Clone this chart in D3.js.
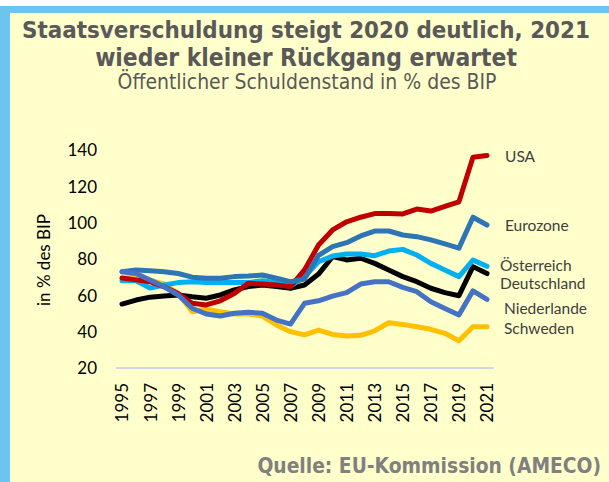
<!DOCTYPE html>
<html><head><meta charset="utf-8">
<script src="https://cdn.jsdelivr.net/npm/d3@7"></script>
<style>
html,body{margin:0;padding:0;background:#fff;}
svg{display:block;}
</style></head>
<body>
<svg id="chart" width="609" height="482"></svg>
<script>
const years = d3.range(1995, 2022);
const yTicks = [20, 40, 60, 80, 100, 120, 140];
const xTickYears = [1995,1997,1999,2001,2003,2005,2007,2009,2011,2013,2015,2017,2019,2021];

const usa = [69.5,68.5,67.5,64.7,61,55.6,54.7,57,61,66.6,66.2,65.7,64.8,74,87.7,96,100.5,103,105,105,104.8,107.5,106.4,109,111.5,136,137];
const eurozone = [73,74,73.5,73,72,70,69.4,69.4,70.3,70.6,71.2,69.4,67.5,69,82,86.8,89,92.7,95.4,95.4,93.2,92.3,90.5,88.3,86,103,98.7];
const oesterreich = [68,68,64,65.7,67,67.5,67,67,67,67,68,67,65,70.3,78.5,81.6,82.7,82.7,81.8,84.4,85.3,82.2,77.6,74,70.3,79.4,76];
const deutschland = [55.2,57.4,59,59.6,60.2,59.2,58.4,60.2,63,64.8,65.7,64.8,63.9,65.7,71.7,81.3,79.5,80.4,77.6,74,70.3,67.5,63.9,61.5,59.8,75.8,72];
const niederlande = [73,72,68.4,64.7,60.2,52.9,49.7,48.6,50.1,50.7,50.1,46.4,44.2,55.6,57,59.6,61.5,66.2,67.5,67.5,64.4,62,56.5,52.8,49.2,62.5,57.8];
const schweden = [69.4,70,68.4,66.2,61,51,52.3,51,49.7,49.7,48.6,43.7,40,38.2,40.9,38.5,37.6,38,40.5,44.9,44,42.7,41.3,39.1,35,42.7,42.7];

const seriesNames = ["Deutschland","Schweden","Österreich","USA","Eurozone","Niederlande"];
const seriesValues = [deutschland, schweden, oesterreich, usa, eurozone, niederlande];
const seriesColors = ["#000000","#FFC000","#00B0F0","#C00000","#2E75B6","#4472C4"];

const labels = [
  {name:"USA", x:505, y:162},
  {name:"Eurozone", x:505, y:231},
  {name:"Österreich", x:500, y:271},
  {name:"Deutschland", x:500, y:289},
  {name:"Niederlande", x:504, y:314},
  {name:"Schweden", x:504, y:334}
];

const svg = d3.select("#chart");
svg.append("rect").attr("x",0).attr("y",0).attr("width",609).attr("height",482).attr("fill","#FFFFCC");
svg.append("rect").attr("x",0).attr("y",0).attr("width",609).attr("height",6).attr("fill","#ffffff");
svg.append("rect").attr("x",0).attr("y",6).attr("width",609).attr("height",7).attr("fill","#6CC4F0");
svg.append("rect").attr("x",0).attr("y",6).attr("width",10).attr("height",476).attr("fill","#6CC4F0");

const x = d3.scaleLinear().domain([1995, 2021]).range([122, 487]);
const y = d3.scaleLinear().domain([20, 140]).range([368, 150]);

svg.append("line").attr("x1",116).attr("x2",494).attr("y1",y(20)).attr("y2",y(20))
  .attr("stroke","#D3D8E6").attr("stroke-width",2);

const tickFont = "Lato, 'Open Sans', sans-serif";
const yAxis = d3.axisLeft(y).tickValues(yTicks).tickSize(0).tickPadding(0);
const gy = svg.append("g").attr("transform","translate(97,0)").call(yAxis);
gy.select(".domain").remove();
gy.selectAll("text").attr("font-family",tickFont).attr("font-size",17).attr("fill","#000").attr("dy","0.35em");

const xAxis = d3.axisBottom(x).tickValues(xTickYears).tickSize(0).tickFormat(d3.format("d"));
const gx = svg.append("g").attr("transform","translate(0,381)").call(xAxis);
gx.select(".domain").remove();
gx.selectAll("text")
  .attr("font-family",tickFont).attr("font-size",17).attr("fill","#000")
  .attr("transform","rotate(-90)")
  .attr("text-anchor","end")
  .attr("x",-2).attr("y",0).attr("dy","0.35em");

svg.append("text").attr("transform","translate(50,260) rotate(-90)")
  .attr("text-anchor","middle").attr("font-family",tickFont).attr("font-size",17)
  .attr("fill","#000").text("in % des BIP");

const line = d3.line().x((d,i)=>x(years[i])).y(d=>y(d));
seriesValues.forEach((vals,k)=>{
  svg.append("path").datum(vals).attr("d",line)
    .attr("fill","none").attr("stroke",seriesColors[k]).attr("stroke-width",5)
    .attr("stroke-linejoin","round").attr("stroke-linecap","round");
});

svg.selectAll("text.lbl").data(labels).enter().append("text").attr("class","lbl")
  .attr("x",d=>d.x).attr("y",d=>d.y).attr("font-family",tickFont).attr("font-size",15.5)
  .attr("fill","#404040").text(d=>d.name);

const titleFont = "'DejaVu Sans Condensed','DejaVu Sans',sans-serif";
function fitSize(sel, w, base){
  const l = sel.node().getComputedTextLength();
  if(l>0) sel.attr("font-size", Math.min(base*1.3, base*w/l));
}
const t1 = svg.append("text").attr("x",306).attr("y",38).attr("text-anchor","middle")
  .attr("font-family",titleFont).attr("font-weight","bold").attr("font-size",22).attr("fill","#595959")
  .text("Staatsverschuldung steigt 2020 deutlich, 2021");
fitSize(t1, 568, 22);
const t2 = svg.append("text").attr("x",306).attr("y",66).attr("text-anchor","middle")
  .attr("font-family",titleFont).attr("font-weight","bold").attr("font-size",22).attr("fill","#595959")
  .text("wieder kleiner Rückgang erwartet");
fitSize(t2, 422, 22);
const t3 = svg.append("text").attr("x",307).attr("y",89).attr("text-anchor","middle")
  .attr("font-family",titleFont).attr("font-size",17).attr("fill","#595959")
  .text("Öffentlicher Schuldenstand in % des BIP");
fitSize(t3, 379, 17);
const src = svg.append("text").attr("x",601).attr("y",473).attr("text-anchor","end")
  .attr("font-family",titleFont).attr("font-weight","bold").attr("font-size",16).attr("fill","#808080")
  .text("Quelle: EU-Kommission (AMECO)");
fitSize(src, 357, 16);
</script>
</body></html>
